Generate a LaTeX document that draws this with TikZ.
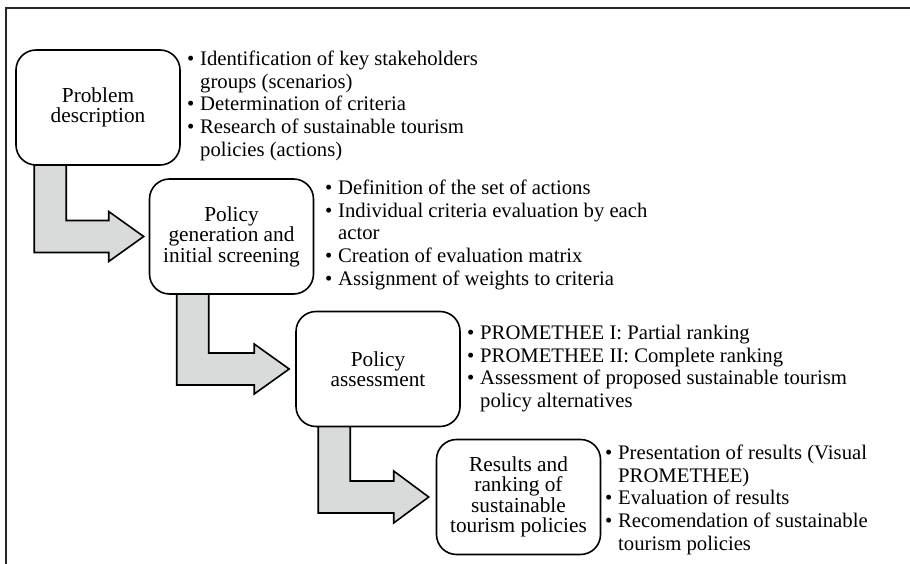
\documentclass[tikz,border=0pt]{standalone}
\usepackage{fontspec}
\setmainfont{Liberation Serif}
\usetikzlibrary{calc,backgrounds}

\definecolor{arrowgray}{RGB}{217,218,218}

% one bullet line and its continuation line (hanging indent)
\newcommand{\bitem}[1]{\makebox[13pt][l]{\textbullet}#1}
\newcommand{\bcont}[1]{\hspace*{13pt}#1}

\tikzset{
  stepbox/.style={draw, line width=1.6pt, rounded corners=20pt, fill=white,
    minimum width=164pt, minimum height=115pt, align=center, inner sep=2pt,
    font=\fontsize{21.3}{20.5}\selectfont},
  bulletlist/.style={anchor=north west, inner sep=0pt, align=left,
    font=\fontsize{20.7}{22.6}\selectfont},
  blockarrow/.style={draw, line width=1.6pt, fill=arrowgray, line join=miter},
  frameline/.style={draw, line width=1.6pt, color=black!85}
}

\begin{document}
\begin{tikzpicture}[x=1pt, y=-1pt]
  \useasboundingbox (0,0) rectangle (910,564);

  % open frame: top and left edges
  \draw[frameline] (6,564) -- (6,8) -- (910,8);

  % stage boxes
  \node[stepbox] (prob)   at (98,107.5)   {Problem\\description};
  \node[stepbox] (gen)    at (231.5,236.5) {Policy\\generation and\\initial screening};
  \node[stepbox] (assess) at (378,369)    {Policy\\assessment};
  \node[stepbox] (res)    at (518.5,497)  {Results and\\ranking of\\sustainable\\tourism policies};

  % L-shaped block arrows between consecutive stages, behind the boxes
  \begin{scope}[on background layer]
  \draw[blockarrow] ($(prob.south west)+(19,-3)$) |- ($(gen.west)+(-40,16)$)
      -- ($(gen.west)+(-40,25)$) -- ($(gen.west)+(-5,0)$)
      -- ($(gen.west)+(-40,-25)$) -- ($(gen.west)+(-40,-16)$)
      -| ($(prob.south west)+(51,-3)$) -- cycle;
  \draw[blockarrow] ($(gen.south west)+(28,-3)$) |- ($(assess.west)+(-41,16)$)
      -- ($(assess.west)+(-41,25)$) -- ($(assess.west)+(-6,0)$)
      -- ($(assess.west)+(-41,-25)$) -- ($(assess.west)+(-41,-16)$)
      -| ($(gen.south west)+(60,-3)$) -- cycle;
  \draw[blockarrow] ($(assess.south west)+(23,-3)$) |- ($(res.west)+(-42,16)$)
      -- ($(res.west)+(-42,26)$) -- ($(res.west)+(-7,0)$)
      -- ($(res.west)+(-42,-26)$) -- ($(res.west)+(-42,-16)$)
      -| ($(assess.south west)+(55,-3)$) -- cycle;
  \end{scope}

  % activity lists
  \node[bulletlist] (l1) at (187,51) {%
    \bitem{Identification of key stakeholders}\\
    \bcont{groups (scenarios)}\\
    \bitem{Determination of criteria}\\
    \bitem{Research of sustainable tourism}\\
    \bcont{policies (actions)}};
  \node[bulletlist] (l2) at (325,180) {%
    \bitem{Definition of the set of actions}\\
    \bitem{Individual criteria evaluation by each}\\
    \bcont{actor}\\
    \bitem{Creation of evaluation matrix}\\
    \bitem{Assignment of weights to criteria}};
  \node[bulletlist] (l3) at (467,325) {%
    \bitem{PROMETHEE I: Partial ranking}\\
    \bitem{PROMETHEE II: Complete ranking}\\
    \bitem{Assessment of proposed sustainable tourism}\\
    \bcont{policy alternatives}};
  \node[bulletlist] (l4) at (605,445) {%
    \bitem{Presentation of results (Visual}\\
    \bcont{PROMETHEE)}\\
    \bitem{Evaluation of results}\\
    \bitem{Recomendation of sustainable}\\
    \bcont{tourism policies}};
\end{tikzpicture}
\end{document}
